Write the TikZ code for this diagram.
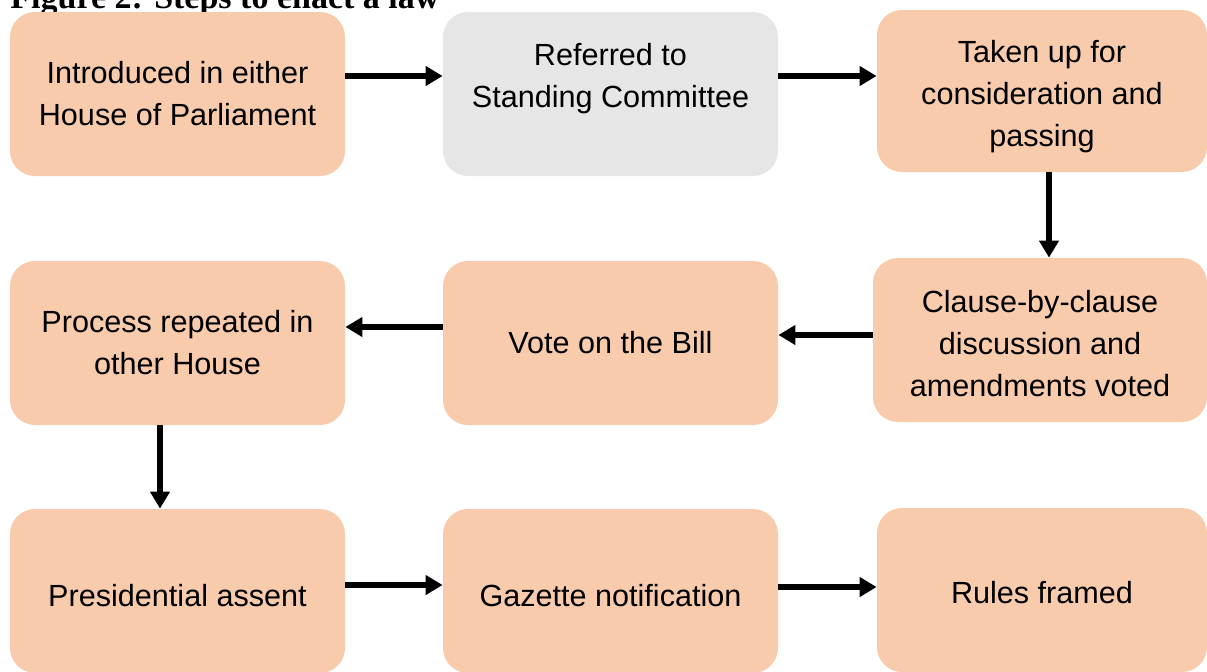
\documentclass[tikz,border=0pt]{standalone}
\usepackage{fontspec}
\setmainfont{Liberation Sans}
\newfontfamily\titlefont{Liberation Serif}
\usetikzlibrary{arrows.meta}

\definecolor{stepfill}{RGB}{248,203,173}
\definecolor{greyfill}{RGB}{231,230,230}

\tikzset{
  stepbox/.style={fill=stepfill, draw=none, rounded corners=12.5pt,
    minimum width=167.5pt, minimum height=82pt, inner sep=0pt,
    align=center, font=\fontsize{15.3}{21}\selectfont},
  flow/.style={line width=3pt, -{Triangle[length=8.5pt,width=9.5pt]}},
}

\begin{document}
\begin{tikzpicture}[x=0.5pt,y=0.5pt,yscale=-1,xscale=1]
\useasboundingbox (0,0) rectangle (1207,671);

% Title (cut by the top edge)
\node (title) [anchor=base west, inner sep=0pt, font=\titlefont\bfseries\fontsize{17}{20}\selectfont] at (10,8) {Figure 2: Steps to enact a law};

% Row 1
\node (intro) [stepbox] at (177.5,94) {Introduced in either\\House of Parliament};
\node (refer) [stepbox, fill=greyfill] at (610.5,94) {Referred to\\Standing Committee\\[-2pt]\mbox{}};
\node (taken) [stepbox, minimum width=165pt, minimum height=81pt] at (1042,91) {Taken up for\\consideration and\\passing\\[-23.8pt]\mbox{}};

% Row 2
\node (repeat) [stepbox] at (177.5,343) {Process repeated in\\other House};
\node (vote) [stepbox] at (610.5,343) {Vote on the Bill};
\node (clause) [stepbox, minimum width=167pt, minimum height=82pt] at (1040,340) {Clause-by-clause\\discussion and\\amendments voted\\[-24pt]\mbox{}};

% Row 3
\node (assent) [stepbox] at (177.5,591) {Presidential assent\\[-25pt]\mbox{}};
\node (gazette) [stepbox] at (610.5,591) {Gazette notification\\[-25pt]\mbox{}};
\node (rules) [stepbox, minimum width=165pt] at (1042,590) {Rules framed\\[-23pt]\mbox{}};

%Straight Lines
\draw [flow] (intro.east |- 0,76) -- (refer.west |- 0,76);
\draw [flow] (refer.east |- 0,76) -- (taken.west |- 0,76);
\draw [flow] (taken.south -| 1049,0) -- (clause.north -| 1049,0);
\draw [flow] (clause.west |- 0,335) -- (vote.east |- 0,335);
\draw [flow] (vote.west |- 0,327) -- (repeat.east |- 0,327);
\draw [flow] (repeat.south -| 160,0) -- (assent.north -| 160,0);
\draw [flow] (assent.east |- 0,585) -- (gazette.west |- 0,585);
\draw [flow] (gazette.east |- 0,587) -- (rules.west |- 0,587);

\end{tikzpicture}
\end{document}
